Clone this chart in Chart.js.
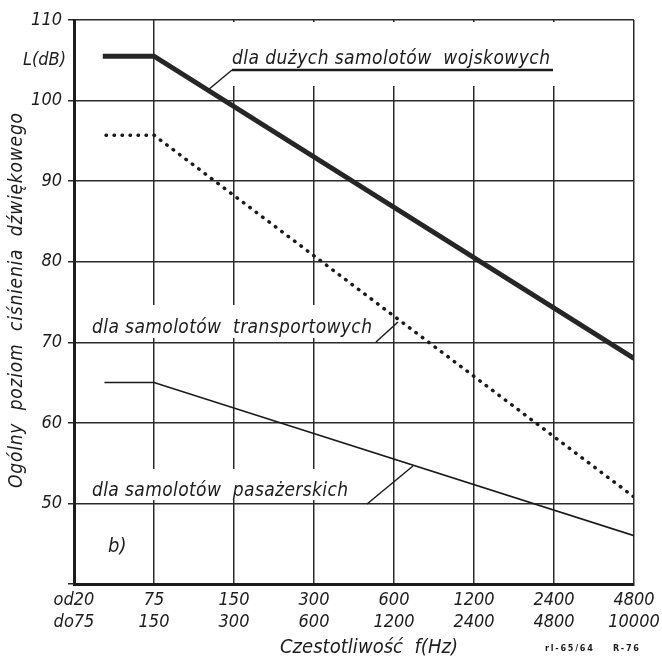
<!DOCTYPE html>
<html>
<head>
<meta charset="utf-8">
<script src="https://cdn.jsdelivr.net/npm/chart.js@4.4.1/dist/chart.umd.min.js"></script>
<style>
    html, body { margin: 0; padding: 0; background: #fff; }
    #wrap { width: 662px; height: 659px; position: relative; }
</style>
</head>
<body>
<div id="wrap"><canvas id="noiseChart"></canvas></div>
<script>
// frequency bands (Hz), two lines per label: "from" / "to"
const bandLabels = [
    ["od20", "do75"], ["75", "150"], ["150", "300"], ["300", "600"],
    ["600", "1200"], ["1200", "2400"], ["2400", "4800"], ["4800", "10000"],
];

// L (dB) per series, x = band index
const militaryX = [0.36, 1, 7];
const militaryL = [105.5, 105.5, 68];
const transportX = [0.4, 1, 7];
const transportL = [95.7, 95.7, 50.8];
const passengerX = [0.38, 1, 7];
const passengerL = [65, 65, 46];

const levelMin = 40;
const levelMax = 110;
const levelStep = 10;

const FONT = "'DejaVu Sans Condensed', 'DejaVu Sans', sans-serif";
const INK = "#1c1c1c";

const toPoints = (xs, ys) => xs.map((x, i) => ({ x: x, y: ys[i] }));

// draw text stretched with letter spacing to a given width
function fitText(ctx, text, x, y, width) {
    ctx.letterSpacing = "0px";
    const w = ctx.measureText(text).width;
    const ls = (width - w) / Math.max(1, text.length - 1);
    ctx.letterSpacing = ls + "px";
    ctx.fillText(text, x, y);
    ctx.letterSpacing = "0px";
}

function line(ctx, pts, width) {
    ctx.beginPath();
    ctx.moveTo(pts[0][0], pts[0][1]);
    for (let i = 1; i < pts.length; i++) ctx.lineTo(pts[i][0], pts[i][1]);
    ctx.lineWidth = width;
    ctx.stroke();
}

const annotations = {
    id: "annotations",
    beforeDatasetsDraw(chart) {
        const ctx = chart.ctx;
        const area = chart.chartArea;
        ctx.save();
        ctx.fillStyle = "#fff";
        // vertical grid lines stop below the top caption
        ctx.fillRect(157, area.top + 2, area.right - 161, 64);
        // gaps behind the captions
        ctx.fillRect(88, 305, 290, 33);
        ctx.fillRect(88, 469, 266, 31);
        ctx.restore();
    },
    afterDatasetsDraw(chart) {
        const ctx = chart.ctx;
        ctx.save();
        ctx.fillStyle = INK;
        ctx.strokeStyle = INK;
        ctx.textBaseline = "alphabetic";
        ctx.textAlign = "left";

        // captions
        ctx.font = "italic 19px " + FONT;
        fitText(ctx, "dla dużych samolotów  wojskowych", 232, 64, 318);
        line(ctx, [[232, 70], [553, 70]], 2.5);
        line(ctx, [[232, 70], [208, 90]], 1.5);

        fitText(ctx, "dla samolotów  transportowych", 92, 333, 280);
        line(ctx, [[376, 342], [398, 322]], 1.5);

        fitText(ctx, "dla samolotów  pasażerskich", 92, 496, 256);
        line(ctx, [[367, 504], [413, 466]], 1.5);

        // unit and panel mark
        ctx.font = "italic 18px " + FONT;
        ctx.textAlign = "right";
        ctx.fillText("L(dB)", 66, 65);
        ctx.textAlign = "left";
        ctx.font = "italic 20px " + FONT;
        ctx.fillText("b)", 108, 552);

        // axis titles
        fitText(ctx, "Czestotliwość  f(Hz)", 280, 653, 178);

        ctx.save();
        ctx.rotate(-Math.PI / 2);
        ctx.font = "italic 19px " + FONT;
        fitText(ctx, "Ogólny  poziom  ciśnienia  dźwiękowego", -488, 22, 375);
        ctx.restore();

        ctx.font = "bold 9px " + FONT;
        fitText(ctx, "rl-65/64    R-76", 545, 651, 94);
        ctx.restore();
    },
};

new Chart(document.getElementById("noiseChart").getContext("2d"), {
    type: "line",
    data: {
        datasets: [
            {
                label: "dla dużych samolotów wojskowych",
                data: toPoints(militaryX, militaryL),
                borderColor: "#262626",
                borderWidth: 5,
                borderCapStyle: "butt",
                pointRadius: 0,
                tension: 0,
            },
            {
                label: "dla samolotów transportowych",
                data: toPoints(transportX, transportL),
                borderColor: "#1a1a1a",
                borderWidth: 3.5,
                borderDash: [0.5, 7.5],
                borderCapStyle: "round",
                pointRadius: 0,
                tension: 0,
            },
            {
                label: "dla samolotów pasażerskich",
                data: toPoints(passengerX, passengerL),
                borderColor: "#1a1a1a",
                borderWidth: 1.6,
                pointRadius: 0,
                tension: 0,
            },
        ],
    },
    options: {
        responsive: true,
        maintainAspectRatio: false,
        animation: false,
        layout: {
            padding: { top: 20, right: 28, left: 0, bottom: 0 },
        },
        plugins: {
            legend: { display: false },
            tooltip: { enabled: false },
        },
        scales: {
            x: {
                type: "linear",
                min: 0,
                max: bandLabels.length - 1,
                afterFit(scale) {
                    scale.height = 75;
                    // let the last label hang into the margin
                    scale.paddingLeft = 0;
                    scale.paddingRight = 0;
                },
                ticks: {
                    stepSize: 1,
                    autoSkip: false,
                    maxRotation: 0,
                    padding: 6,
                    color: INK,
                    font: { family: FONT, size: 18, style: "italic", lineHeight: 1.2 },
                    callback: (v) => bandLabels[v],
                },
                grid: {
                    color: "#2b2b2b",
                    lineWidth: 1.5,
                    drawTicks: false,
                },
                border: { color: INK, width: 3 },
            },
            y: {
                min: levelMin,
                max: levelMax,
                afterFit(scale) { scale.width = 74; },
                ticks: {
                    stepSize: levelStep,
                    padding: 6,
                    color: INK,
                    font: { family: FONT, size: 18, style: "italic" },
                    callback: (v) => (v === levelMin ? "" : v),
                },
                grid: {
                    color: "#2b2b2b",
                    lineWidth: 1.5,
                    tickLength: 6,
                },
                border: { color: INK, width: 3 },
            },
        },
    },
    plugins: [annotations],
});
</script>
</body>
</html>
